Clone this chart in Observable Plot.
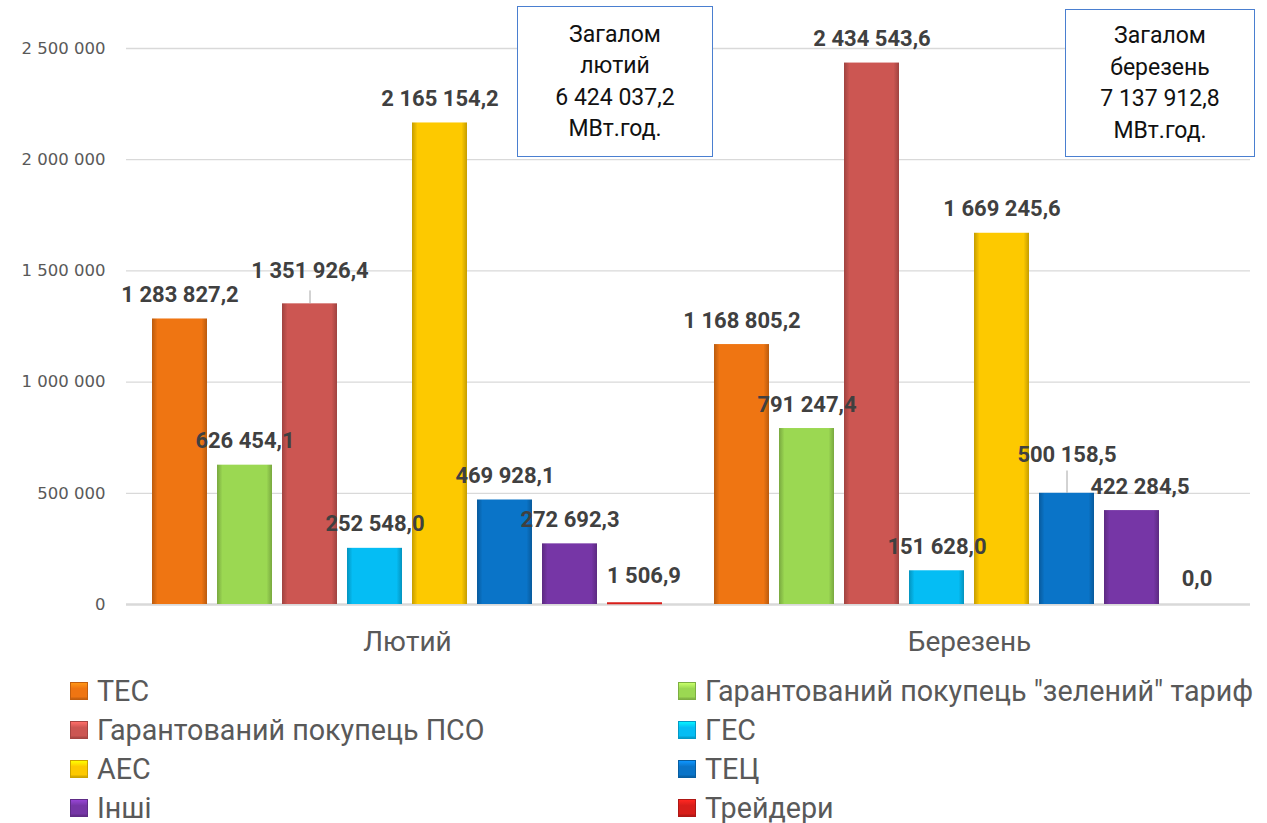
<!DOCTYPE html>
<html><head><meta charset="utf-8">
<script src="https://cdn.jsdelivr.net/npm/d3@7"></script>
<script src="https://cdn.jsdelivr.net/npm/@observablehq/plot@0.6"></script>
<style>
html,body{margin:0;padding:0;background:#fff;}
#wrap{position:relative;width:1267px;height:823px;overflow:hidden;font-family:Roboto,sans-serif;}
#wrap svg{position:absolute;left:0;top:0;}
[aria-label^="y-axis"] text{font-family:"DejaVu Sans",sans-serif;font-size:16.5px;fill:#595959;}
[aria-label^="fx-axis"] text{font-family:Roboto,sans-serif;font-size:28px;fill:#595959;}
.box{position:absolute;border:1.5px solid #4a7fd0;box-sizing:border-box;text-align:center;font-size:23px;line-height:31.5px;color:#111;background:#fff;display:flex;flex-direction:column;justify-content:center;}
.legend{position:absolute;left:70px;top:671px;display:grid;grid-template-columns:608px auto;grid-auto-rows:39px;font-size:28.7px;color:#595959;}
.legend .item{display:flex;align-items:center;white-space:nowrap;}
.legend .sw{width:18px;height:18px;margin-right:9px;box-sizing:border-box;flex:none;}
</style></head><body><div id="wrap"></div>
<script>
const months = ["Лютий", "Березень"];
const series = ["ТЕС", "Гарантований покупець \"зелений\" тариф", "Гарантований покупець ПСО", "ГЕС", "АЕС", "ТЕЦ", "Інші", "Трейдери"];
const febValues = [1283827.2, 626454.1, 1351926.4, 252548.0, 2165154.2, 469928.1, 272692.3, 1506.9];
const marValues = [1168805.2, 791247.4, 2434543.6, 151628.0, 1669245.6, 500158.5, 422284.5, 0.0];
const colors = ["#ef7512", "#9bd852", "#cc5652", "#05bdf4", "#fdc900", "#0a74c8", "#7636a6", "#d81e1a"];
const yTicks = [0, 500000, 1000000, 1500000, 2000000, 2500000];
const totalUnit = "МВт.год.";

const loc = d3.formatLocale({decimal: ",", thousands: " ", grouping: [3]});
const fmtVal = loc.format(",.1f");
const fmtTick = loc.format(",.0f");

const valuesByMonth = [febValues, marValues];
const rows = months.flatMap((m, mi) => series.map((s, si) => ({month: m, series: s, si, value: valuesByMonth[mi][si]})));

// label adjustments (styling only)
const labelAdjust = {
  "Лютий|Гарантований покупець ПСО": {dy: -33, leader: 58000},
  "Березень|ТЕЦ": {dy: -38, leader: 100000},
  "Лютий|Трейдери": {dy: -28, dx: 9},
  "Березень|Інші": {dy: -24, dx: 8},
  "Березень|Трейдери": {dy: -26, dx: 0}
};
const key = d => d.month + "|" + d.series;
const plainRows = rows.filter(d => !labelAdjust[key(d)]);
const labelStyle = {fontSize: 22, fontWeight: "bold", fill: "#404040", fontFamily: "Roboto"};
const labelMarks = Object.entries(labelAdjust).map(([k, a]) =>
  Plot.text(rows.filter(d => key(d) === k), {fx: "month", x: "series", y: "value", text: d => fmtVal(d.value),
    dy: a.dy, dx: a.dx || 0, ...labelStyle}));
const leaderRows = rows.filter(d => labelAdjust[key(d)] && labelAdjust[key(d)].leader);

const plot = Plot.plot({
  width: 1267, height: 665,
  marginLeft: 126, marginRight: 17, marginTop: 48, marginBottom: 61,
  style: {fontFamily: "Roboto, sans-serif", background: "transparent", overflow: "visible"},
  fx: {domain: months, padding: 0, label: null, axis: "bottom", tickSize: 0, tickPadding: 27},
  x: {domain: series, paddingInner: 0.16, paddingOuter: 0.4, axis: null},
  y: {domain: [0, 2500000], ticks: yTicks, tickFormat: fmtTick, label: null, tickSize: 0, tickPadding: 21},
  marks: [
    Plot.ruleY(yTicks.slice(1), {stroke: "#d9d9d9", strokeWidth: 1.3}),
    Plot.ruleY([0], {stroke: "#d9d9d9", strokeWidth: 2.5}),
    Plot.barY(rows, {fx: "month", x: "series", y: "value", fill: d => `url(#grad${d.si})`}),
    Plot.tickY(rows.filter(d => d.value > 60000), {fx: "month", x: "series", y: "value",
      stroke: d => `url(#hl${d.si})`, strokeWidth: 7, dy: 3.5}),
    // very small (non-zero) values shown as a thin line at the baseline
    Plot.tickY(rows.filter(d => d.value > 0 && d.value <= 60000), {fx: "month", x: "series", y: "value",
      stroke: d => colors[d.si], strokeWidth: 2, dy: -1}),
    Plot.ruleX(leaderRows, {fx: "month", x: "series", y1: "value", y2: d => d.value + labelAdjust[key(d)].leader,
      stroke: "#a6a6a6", strokeWidth: 1}),
    Plot.text(plainRows, {fx: "month", x: "series", y: "value", text: d => fmtVal(d.value),
      dy: -24, ...labelStyle}),
    ...labelMarks
  ]
});

// gradients for bevel look
const svgNS = "http://www.w3.org/2000/svg";
const defs = document.createElementNS(svgNS, "defs");
function addGrad(id, stops) {
  const g = document.createElementNS(svgNS, "linearGradient");
  g.setAttribute("id", id);
  g.setAttribute("x1", "0"); g.setAttribute("x2", "1"); g.setAttribute("y1", "0"); g.setAttribute("y2", "0");
  stops.forEach(([o, col]) => {
    const s = document.createElementNS(svgNS, "stop");
    s.setAttribute("offset", o); s.setAttribute("stop-color", col); g.appendChild(s);
  });
  defs.appendChild(g);
}
colors.forEach((c, i) => {
  const dark = d3.color(c).darker(0.7).formatHex();
  const light = d3.color(c).brighter(0.6).formatHex();
  addGrad("grad" + i, [[0, dark], [0.1, c], [0.9, c], [1, dark]]);
  addGrad("hl" + i, [[0, dark], [0.1, light], [0.9, light], [1, dark]]);
});
plot.insertBefore(defs, plot.firstChild);

const wrap = document.getElementById("wrap");
wrap.appendChild(plot);

// totals boxes
const boxPos = [{left: 517, top: 6, width: 196, height: 151}, {left: 1065, top: 9, width: 190, height: 148}];
months.forEach((m, mi) => {
  const total = d3.sum(valuesByMonth[mi]);
  const b = document.createElement("div");
  b.className = "box";
  Object.assign(b.style, {left: boxPos[mi].left + "px", top: boxPos[mi].top + "px", width: boxPos[mi].width + "px", height: boxPos[mi].height + "px"});
  ["Загалом", m.toLowerCase(), fmtVal(total), totalUnit].forEach(t => {
    const line = document.createElement("div"); line.textContent = t; b.appendChild(line);
  });
  wrap.appendChild(b);
});

// legend
const legend = document.createElement("div");
legend.className = "legend";
series.forEach((s, i) => {
  const it = document.createElement("div"); it.className = "item";
  const sw = document.createElement("span"); sw.className = "sw";
  const c = colors[i];
  const dark = d3.color(c).darker(0.6).formatHex();
  const light = d3.color(c).brighter(0.7).formatHex();
  sw.style.background = `linear-gradient(to bottom, ${light} 0%, ${c} 35%, ${c} 85%, ${dark} 100%)`;
  sw.style.border = `1px solid ${dark}`;
  const tx = document.createElement("span"); tx.textContent = s;
  it.appendChild(sw); it.appendChild(tx); legend.appendChild(it);
});
wrap.appendChild(legend);
</script></body></html>
